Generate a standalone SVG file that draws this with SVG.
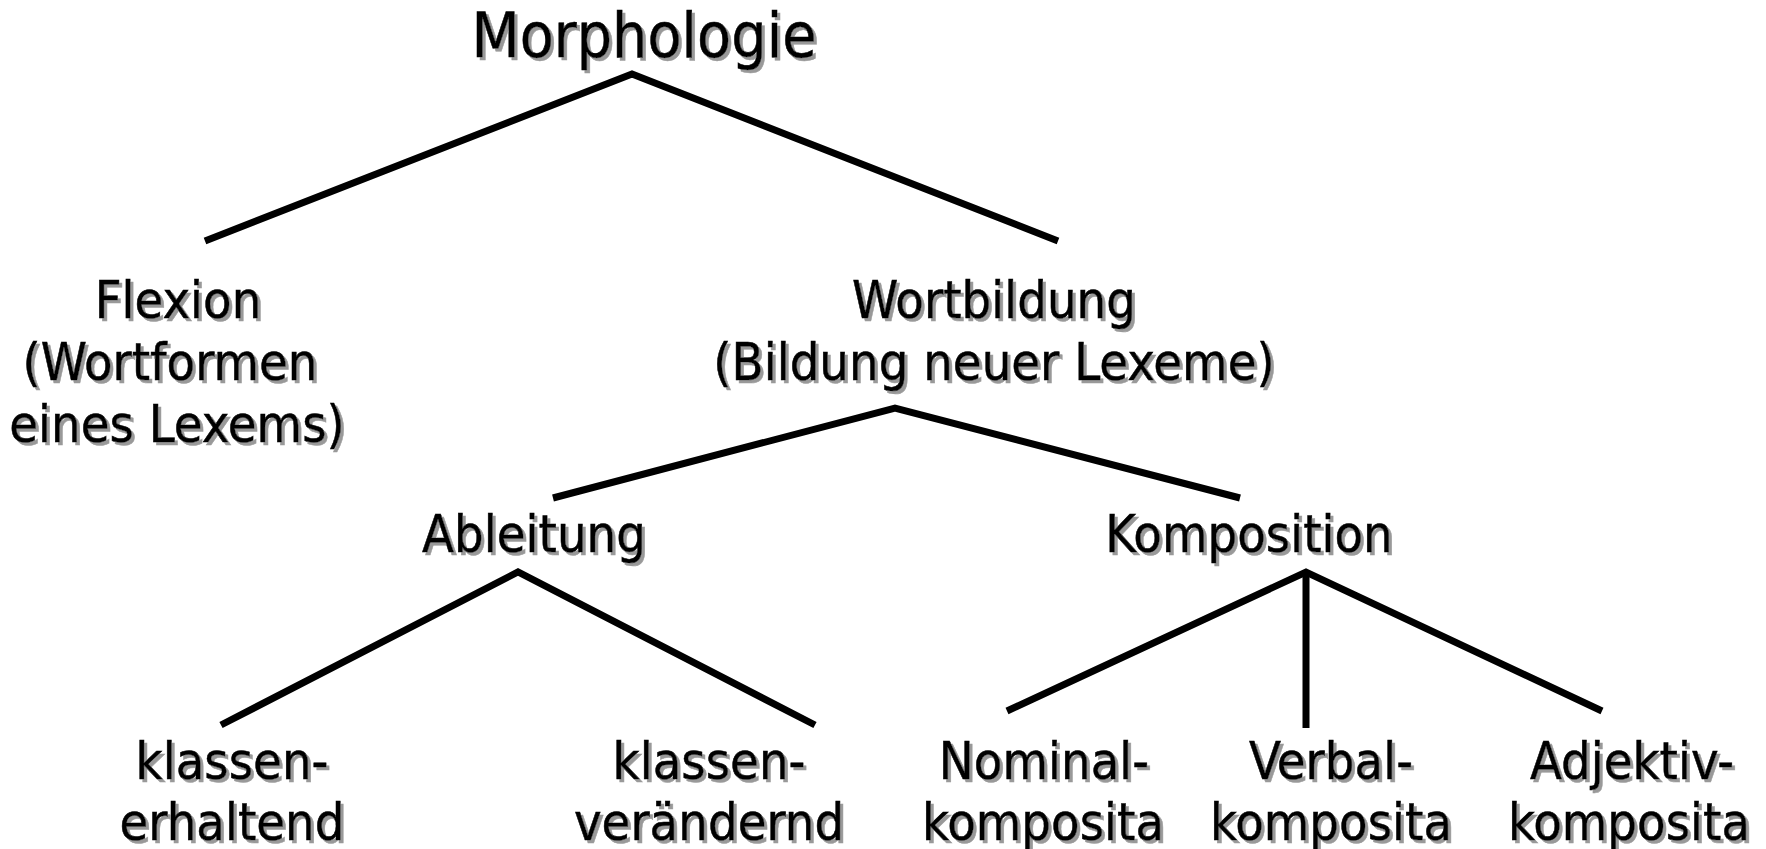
<svg xmlns="http://www.w3.org/2000/svg" width="1766" height="849" viewBox="0 0 1766 849">
<style>
text{font-family:"DejaVu Sans Condensed","DejaVu Sans",sans-serif;font-size:52px;fill:#000;stroke:#000;stroke-width:0.5;text-anchor:middle;filter:url(#sh)}
.big{font-size:62px}
.c{fill:none;stroke:#000;stroke-width:7;stroke-linejoin:miter;stroke-miterlimit:10}
</style>
<defs>
<filter id="sh" x="-5%" y="-20%" width="110%" height="140%">
<feDropShadow dx="3" dy="3" stdDeviation="0.6" flood-color="#999999" flood-opacity="1"/>
</filter>
</defs>
<rect width="1766" height="849" fill="#fff"/>
<g id="connectors">
<polyline class="c" points="205,241 632,74 1058,241"/>
<polyline class="c" points="553,498 895,408 1240,498"/>
<polyline class="c" points="221,725 518,572 815,725"/>
<polyline class="c" points="1007,711 1306,572 1602,711"/>
<line class="c" x1="1306" y1="574" x2="1306" y2="728"/>
</g>
<g id="morphologie"><text class="big" x="644" y="57">Morphologie</text></g>
<g id="flexion">
<text x="178" y="318">Flexion</text>
<text x="170" y="380">(Wortformen</text>
<text x="177" y="442">eines Lexems)</text>
</g>
<g id="wortbildung">
<text x="994" y="318">Wortbildung</text>
<text x="994" y="380">(Bildung neuer Lexeme)</text>
</g>
<g id="ableitung"><text x="534" y="552">Ableitung</text></g>
<g id="komposition"><text x="1249" y="552">Komposition</text></g>
<g id="klassenerhaltend">
<text x="232" y="779">klassen-</text>
<text x="232" y="840">erhaltend</text>
</g>
<g id="klassenveraendernd">
<text x="709" y="779">klassen-</text>
<text x="709" y="840">verändernd</text>
</g>
<g id="nominalkomposita">
<text x="1044" y="779">Nominal-</text>
<text x="1043" y="840">komposita</text>
</g>
<g id="verbalkomposita">
<text x="1331" y="779">Verbal-</text>
<text x="1331" y="840">komposita</text>
</g>
<g id="adjektivkomposita">
<text x="1632" y="779">Adjektiv-</text>
<text x="1629" y="840">komposita</text>
</g>
</svg>
